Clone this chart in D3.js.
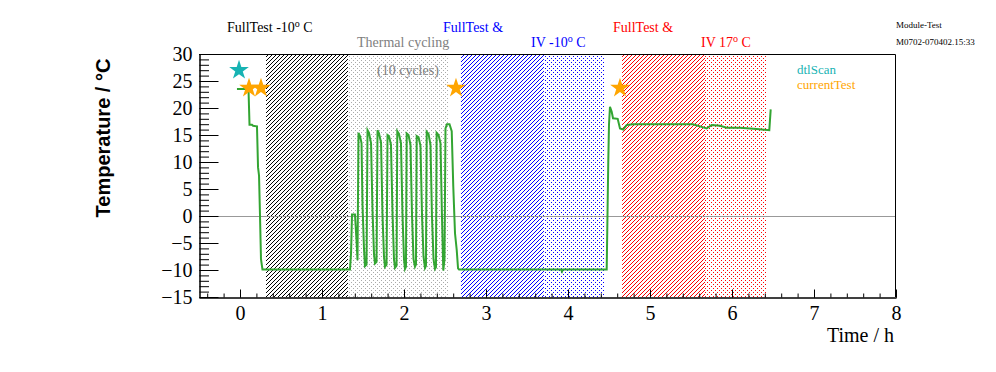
<!DOCTYPE html>
<html>
<head>
<meta charset="utf-8">
<script src="https://cdnjs.cloudflare.com/ajax/libs/d3/7.8.5/d3.min.js"></script>
<style>
  body { margin: 0; background: #fff; }
  svg { display: block; }
  .tick text { font-family: "Liberation Serif", serif; font-size: 20px; fill: #000; }
  .lbl { font-family: "Liberation Serif", serif; font-size: 14px; }
</style>
</head>
<body>
<script>
// temperature log (time in h, temperature in deg C)
const timeH = [
  -0.037, 0.073, 0.104, 0.116, 0.146, 0.159, 0.207, 0.220, 0.232, 0.244, 0.256, 0.274, 1.341,
  1.354, 1.366, 1.402, 1.421, 1.433, 1.445, 1.463, 1.482, 1.494, 1.512, 1.524,
  1.543, 1.555, 1.573, 1.598, 1.616, 1.634, 1.646,
  1.665, 1.677, 1.695, 1.720, 1.738, 1.756, 1.768,
  1.787, 1.799, 1.817, 1.841, 1.860, 1.878, 1.890,
  1.909, 1.918, 1.939, 1.963, 1.982, 2.000, 2.012,
  2.024, 2.033, 2.055, 2.079, 2.098, 2.116, 2.134,
  2.146, 2.155, 2.177, 2.201, 2.220, 2.238, 2.256,
  2.268, 2.277, 2.299, 2.323, 2.341, 2.360, 2.378,
  2.390, 2.398, 2.421, 2.445, 2.463, 2.479,
  2.494, 2.506, 2.524, 2.555, 2.582, 2.601, 2.622, 2.643, 2.659, 2.671,
  3.915, 3.927, 3.939, 4.472, 4.491, 4.500, 4.512, 4.533, 4.549, 4.606, 4.634, 4.674, 4.716,
  4.793, 5.122, 5.524, 5.630, 5.691, 5.752, 5.854, 5.935, 6.098, 6.301, 6.455, 6.472
];
const tempC = [
  23.5, 23.5, 23.3, 16.9, 16.9, 16.7, 16.6, 9, 7.5, 0, -8, -9.9, -9.9,
  -7, 0.3, 0.3, -4.5, -8.2, 15.4, 14.8, 13.5, 2, -6, -9.3,
  -9.0, 15.9, 15.4, 13.5, 1, -7, -8.8,
  -8.5, 15.9, 15.3, 13.6, 0, -7.5, -9.4,
  -9.0, 15.0, 14.8, 13.2, 0.5, -8, -9.6,
  -9.2, 15.7, 15.2, 13.5, 0, -8, -9.8,
  -9.4, 15.3, 15.0, 13.2, 0, -8, -9.4,
  -9.0, 14.8, 14.6, 13, 0, -7.5, -9.6,
  -9.2, 15.6, 15.2, 13.2, 0, -8, -9.8,
  -9.5, 15.4, 15.0, 13.5, 0, -10.1,
  -8, 16.2, 17.0, 17.0, 15.7, 5.4, -3.2, -6.3, -9.7, -9.9,
  -9.9, -10.3, -9.9, -9.9, 10, 17, 20.2, 19.3, 18.1, 18.0, 16.2, 16.0, 16.85,
  17.0, 17.0, 17.0, 16.5, 16.2, 16.85, 16.7, 16.35, 16.35, 16.1, 15.9, 19.75
];

// test markers
const dtlScanT = [-0.012];
const dtlScanV = [27.0];
const currentTestT = [0.11, 0.256, 2.634, 4.634];
const currentTestV = [23.7, 23.7, 23.7, 23.7];

// shaded test periods [start, end] in h
const periodStart = [0.317, 1.317, 2.695, 3.707, 4.659, 5.671];
const periodEnd   = [1.317, 2.537, 3.707, 4.451, 5.671, 6.427];
const periodFill  = ['hatchK', 'dotG', 'hatchB', 'dotB', 'hatchR', 'dotR'];

const xTicks = [0, 1, 2, 3, 4, 5, 6, 7, 8];
const yTicks = [-15, -10, -5, 0, 5, 10, 15, 20, 25, 30];

const margin = { top: 54, right: 100, bottom: 75, left: 199 };
const width = 996 - margin.left - margin.right;
const height = 372 - margin.top - margin.bottom;

const x = d3.scaleLinear().domain([-0.5, 8]).range([0, width]);
const y = d3.scaleLinear().domain([-15, 30]).range([height, 0]);

const root = d3.select('body').append('svg')
  .attr('width', 996)
  .attr('height', 372);

// fill patterns (pixel style)
const defs = root.append('defs');
function pattern(id, color, size, pixels) {
  const p = defs.append('pattern')
    .attr('id', id)
    .attr('patternUnits', 'userSpaceOnUse')
    .attr('width', size).attr('height', size);
  pixels.forEach(function(px) {
    p.append('rect').attr('x', px[0]).attr('y', px[1])
      .attr('width', 1).attr('height', 1)
      .attr('fill', color).attr('shape-rendering', 'crispEdges');
  });
}
const hatchPx = [[1, 0], [0, 1], [3, 2], [2, 3]];
const dotPx = [[0, 0], [2, 2]];
pattern('hatchK', '#000', 4, hatchPx);
pattern('dotG', '#aaa', 4, dotPx);
pattern('hatchB', '#0000ff', 4, hatchPx);
pattern('dotB', '#0000ff', 4, dotPx);
pattern('hatchR', '#ff0000', 4, hatchPx);
pattern('dotR', '#ff0000', 4, dotPx);

const svg = root.append('g')
  .attr('transform', 'translate(' + margin.left + ',' + margin.top + ')');

// shaded periods
svg.selectAll('.period')
  .data(periodStart)
  .enter().append('rect')
  .attr('class', 'period')
  .attr('x', function(d) { return x(d); })
  .attr('y', 0)
  .attr('width', function(d, i) { return x(periodEnd[i]) - x(d); })
  .attr('height', height)
  .attr('fill', function(d, i) { return 'url(#' + periodFill[i] + ')'; });

// zero line
svg.append('line')
  .attr('x1', 0).attr('x2', width)
  .attr('y1', Math.round(y(0)) + 0.5).attr('y2', Math.round(y(0)) + 0.5)
  .style('stroke', '#999').style('stroke-width', 1);

// frame (top + right)
svg.append('path')
  .attr('d', 'M0,0.5H' + (width - 0.5) + 'V' + height)
  .style('fill', 'none').style('stroke', '#000').style('stroke-width', 1);

// y axis, minor + major
svg.append('g').attr('transform', 'translate(0.5,0)')
  .call(d3.axisLeft(y).tickValues(d3.range(-15, 31, 1)).tickSize(-9.5).tickSizeOuter(0).tickFormat(''));
svg.append('g').attr('transform', 'translate(0.5,0)')
  .call(d3.axisLeft(y).tickValues(yTicks).tickSize(-19).tickSizeOuter(0).tickPadding(7));

// x axis, minor + major
svg.append('g').attr('transform', 'translate(0,' + (height + 0.5) + ')')
  .call(d3.axisBottom(x).tickValues(d3.range(-0.4, 8.01, 0.2)).tickSize(-4).tickSizeOuter(0).tickFormat(''));
svg.append('g').attr('transform', 'translate(0,' + (height + 0.5) + ')')
  .call(d3.axisBottom(x).tickValues(xTicks).tickSize(-8).tickSizeOuter(0).tickPadding(8));

svg.selectAll('.domain').style('stroke', '#000');

// temperature line
const line = d3.line()
  .x(function(d, i) { return x(timeH[i]); })
  .y(function(d) { return y(d); });

svg.append('path')
  .datum(tempC)
  .attr('d', line)
  .style('fill', 'none')
  .style('stroke', '#33a532')
  .style('stroke-width', 2);

// star markers
const star = d3.symbol().type(d3.symbolStar).size(120);
svg.selectAll('.dtl')
  .data(dtlScanT)
  .enter().append('path')
  .attr('d', star)
  .attr('transform', function(d, i) { return 'translate(' + x(d) + ',' + y(dtlScanV[i]) + ')'; })
  .style('fill', '#17b3b3');
svg.selectAll('.cur')
  .data(currentTestT)
  .enter().append('path')
  .attr('d', star)
  .attr('transform', function(d, i) { return 'translate(' + x(d) + ',' + y(currentTestV[i]) + ')'; })
  .style('fill', '#ffa500');

// axis titles
root.append('text')
  .attr('x', 894).attr('y', 342)
  .attr('text-anchor', 'end')
  .style('font-family', '"Liberation Serif", serif')
  .style('font-size', '20px')
  .text('Time / h');

root.append('text')
  .attr('transform', 'translate(110,138) rotate(-90)')
  .attr('text-anchor', 'middle')
  .style('font-family', '"Liberation Sans", sans-serif')
  .style('font-weight', 'bold')
  .style('font-size', '20px')
  .text('Temperature / °C');

// period labels
function label(xp, yp, color, parts) {
  const t = root.append('text').attr('class', 'lbl')
    .attr('x', xp).attr('y', yp).style('fill', color);
  parts.forEach(function(p) {
    if (p.sup) {
      t.append('tspan').attr('dy', -5).style('font-size', '10px').text(p.sup);
      t.append('tspan').attr('dy', 5).text(p.after);
    } else {
      t.append('tspan').text(p.text);
    }
  });
}
label(227, 32, '#000', [{ text: 'FullTest -10' }, { sup: 'o', after: ' C' }]);
label(357, 47, '#808080', [{ text: 'Thermal cycling' }]);
label(377, 75, '#808080', [{ text: '(10 cycles)' }]);
label(443, 32, '#0000ff', [{ text: 'FullTest &' }]);
label(531, 47, '#0000ff', [{ text: 'IV -10' }, { sup: 'o', after: ' C' }]);
label(613, 32, '#ff0000', [{ text: 'FullTest &' }]);
label(701, 47, '#ff0000', [{ text: 'IV 17' }, { sup: 'o', after: ' C' }]);

// legend + stamp
root.append('text').attr('class', 'lbl').attr('x', 797).attr('y', 74)
  .style('font-size', '13px').style('fill', '#17b3b3').text('dtlScan');
root.append('text').attr('class', 'lbl').attr('x', 797).attr('y', 89)
  .style('font-size', '13px').style('fill', '#ffa500').text('currentTest');
root.append('text').attr('class', 'lbl').attr('x', 896).attr('y', 28)
  .style('font-size', '9px').text('Module-Test');
root.append('text').attr('class', 'lbl').attr('x', 896).attr('y', 45)
  .style('font-size', '9px').text('M0702-070402.15:33');
</script>
</body>
</html>
